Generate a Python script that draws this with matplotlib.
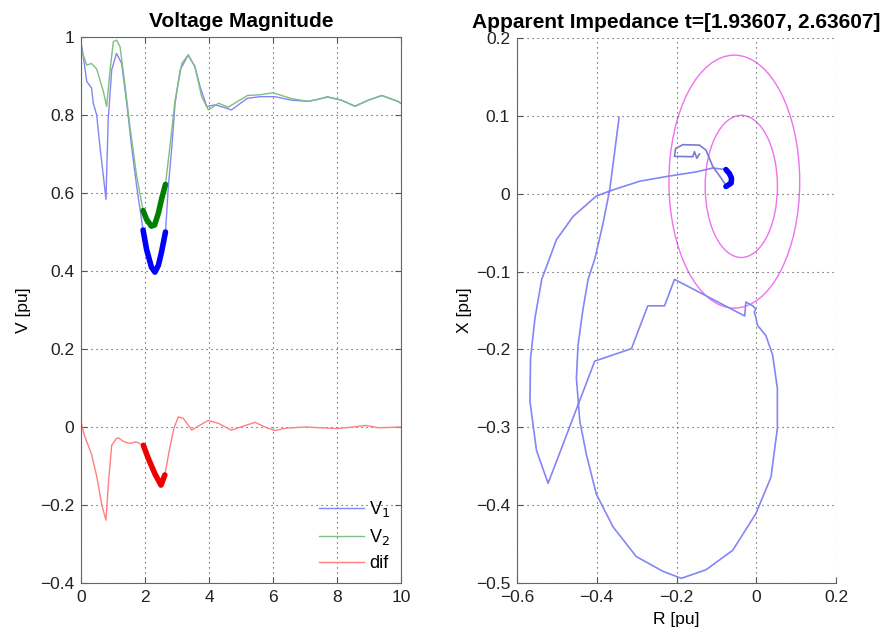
import matplotlib
matplotlib.use("Agg")
import matplotlib.pyplot as plt
from matplotlib.patches import Ellipse
import numpy as np

plt.rcParams['font.family'] = ['Liberation Sans', 'DejaVu Sans']

# ---------------- Left panel data ----------------
t_v1 = [0.0, 0.02, 0.18, 0.33, 0.385, 0.49, 0.59, 0.70, 0.78, 0.85, 0.96, 1.11, 1.27, 1.43,
        1.58, 1.74, 1.94, 2.05, 2.2, 2.31, 2.42, 2.52, 2.64, 2.73, 2.84, 2.94, 3.1, 3.35,
        3.56, 3.72, 3.93, 4.19, 4.45, 4.7, 4.95, 5.2, 5.6, 6.06, 6.58, 7.1, 7.4, 7.7, 8.14,
        8.56, 8.98, 9.4, 9.9, 10.0]
v1 = [0.96, 0.979, 0.886, 0.869, 0.83, 0.80, 0.72, 0.643, 0.583, 0.788, 0.916, 0.958, 0.932, 0.83,
      0.72, 0.617, 0.505, 0.455, 0.41, 0.397, 0.415, 0.45, 0.50, 0.617, 0.72, 0.83, 0.916, 0.954,
      0.924, 0.873, 0.822, 0.826, 0.82, 0.813, 0.828, 0.843, 0.847, 0.847, 0.838, 0.835, 0.84, 0.846, 0.838,
      0.822, 0.838, 0.85, 0.835, 0.83]

t_v2 = [0.0, 0.02, 0.18, 0.33, 0.49, 0.70, 0.80, 0.91, 1.01, 1.11, 1.22, 1.38, 1.53, 1.74,
        1.94, 2.05, 2.2, 2.3, 2.42, 2.52, 2.64, 2.78, 2.94, 3.15, 3.35, 3.56, 3.77, 3.98,
        4.3, 4.6, 4.9, 5.2, 5.6, 6.0, 6.58, 7.1, 7.4, 7.7, 8.14, 8.56, 8.98, 9.4, 9.9, 10.0]
v2 = [0.95, 0.966, 0.928, 0.932, 0.918, 0.86, 0.822, 0.916, 0.988, 0.992, 0.975, 0.873, 0.77, 0.643,
      0.555, 0.532, 0.515, 0.518, 0.549, 0.585, 0.622, 0.72, 0.838, 0.932, 0.954, 0.924, 0.847, 0.813,
      0.83, 0.82, 0.835, 0.85, 0.852, 0.857, 0.842, 0.835, 0.84, 0.847, 0.838, 0.823, 0.838, 0.85, 0.835, 0.83]

t_dif = [0.0, 0.1, 0.33, 0.5, 0.65, 0.78, 0.87, 0.96, 1.1, 1.17, 1.35, 1.53, 1.72, 1.95,
         2.1, 2.31, 2.5, 2.62, 2.75, 2.9, 3.04, 3.2, 3.46, 3.7, 3.98, 4.3, 4.7, 5.1, 5.44,
         5.8, 6.06, 6.4, 7.0, 7.5, 8.0, 8.5, 8.9, 9.3, 10.0]
dif = [0.013, -0.02, -0.07, -0.13, -0.2, -0.239, -0.13, -0.047, -0.03, -0.028, -0.038, -0.042, -0.038, -0.047,
       -0.08, -0.12, -0.149, -0.123, -0.064, -0.004, 0.026, 0.022, -0.008, 0.004, 0.017, 0.009, -0.008, 0.003, 0.012,
       -0.002, -0.009, -0.003, 0.0, -0.002, -0.004, 0.0, 0.004, -0.002, 0.0]

t_window = [1.93607, 2.63607]

left_xticks = [0, 2, 4, 6, 8, 10]
left_yticks = [-0.4, -0.2, 0, 0.2, 0.4, 0.6, 0.8, 1]
left_yticklabels = ['\u22120.4', '\u22120.2', '0', '0.2', '0.4', '0.6', '0.8', '1']

# ---------------- Right panel data ----------------
r_path1 = [-0.344, -0.356, -0.3675, -0.385, -0.405, -0.4217, -0.435, -0.447, -0.451, -0.4425,
           -0.426, -0.401, -0.359, -0.301, -0.234, -0.188, -0.126, -0.059, -0.001, 0.037,
           0.053, 0.053, 0.041, 0.024, 0.003, -0.001, -0.005, -0.001, -0.009, -0.026, -0.029,
           -0.205, -0.23, -0.272, -0.313, -0.405, -0.522, -0.551, -0.5675, -0.566, -0.555,
           -0.538, -0.501, -0.459, -0.401, -0.359, -0.2925, -0.226, -0.151, -0.109, -0.076]
x_path1 = [0.098, 0.05, 0.005, -0.04, -0.084, -0.11, -0.15, -0.195, -0.237, -0.292,
           -0.335, -0.386, -0.428, -0.466, -0.485, -0.494, -0.483, -0.458, -0.411, -0.364,
           -0.301, -0.25, -0.207, -0.182, -0.169, -0.159, -0.152, -0.148, -0.144, -0.139, -0.157,
           -0.110, -0.144, -0.144, -0.199, -0.215, -0.372, -0.33, -0.267, -0.211, -0.16,
           -0.11, -0.059, -0.029, -0.003, 0.005, 0.016, 0.022, 0.028, 0.033, 0.031]

r_thick = [-0.076, -0.0675, -0.062, -0.063, -0.076]
x_thick = [0.031, 0.026, 0.020, 0.0136, 0.0093]

r_path2 = [-0.076, -0.08, -0.095, -0.109, -0.126, -0.1425, -0.184, -0.2025, -0.205,
           -0.159, -0.155, -0.149, -0.1425]
x_path2 = [0.0093, 0.014, 0.025, 0.035, 0.056, 0.0624, 0.063, 0.058, 0.048,
           0.0475, 0.054, 0.0455, 0.051]

zone_center_r = [-0.055, -0.0375]
zone_center_x = [0.0155, 0.0094]
zone_half_r = [0.164, 0.0906]
zone_half_x = [0.1625, 0.0913]

right_xticks = [-0.6, -0.4, -0.2, 0, 0.2]
right_xticklabels = ['\u22120.6', '\u22120.4', '\u22120.2', '0', '0.2']
right_yticks = [-0.5, -0.4, -0.3, -0.2, -0.1, 0, 0.1, 0.2]
right_yticklabels = ['\u22120.5', '\u22120.4', '\u22120.3', '\u22120.2', '\u22120.1', '0', '0.1', '0.2']

# ---------------- Styles ----------------
c_v1 = '#8585f5'
c_v2 = '#7fbf7f'
c_dif = '#ff8080'
c_zone = '#f070f0'
grid_kw = dict(color='#444444', linestyle=(0, (1, 3.5)), linewidth=0.8)
TICK_FS = 12.5
LAB_FS = 12.5
TITLE_FS = 15

fig = plt.figure(figsize=(8.83, 6.35), dpi=100)

# Left axes
ax1 = fig.add_axes([81 / 883, (635 - 583) / 635, 320 / 883, 546 / 635])
tv1 = np.array(t_v1); av1 = np.array(v1)
tv2 = np.array(t_v2); av2 = np.array(v2)
td = np.array(t_dif); ad = np.array(dif)
ax1.plot(tv1, av1, color=c_v1, lw=1.0, label='V$_1$')
ax1.plot(tv2, av2, color=c_v2, lw=1.0, label='V$_2$')
ax1.plot(td, ad, color=c_dif, lw=1.0, label='dif')
m1 = (tv1 >= t_window[0] - 0.01) & (tv1 <= t_window[1] + 0.01)
m2 = (tv2 >= t_window[0] - 0.01) & (tv2 <= t_window[1] + 0.01)
md = (td >= t_window[0] - 0.01) & (td <= t_window[1] + 0.01)
ax1.plot(tv1[m1], av1[m1], color='#0000ff', lw=4, solid_capstyle='round')
ax1.plot(tv2[m2], av2[m2], color='#008000', lw=4, solid_capstyle='round')
ax1.plot(td[md], ad[md], color='#ee0000', lw=4, solid_capstyle='round')
ax1.set_xlim(0, 10)
ax1.set_ylim(-0.4, 1.0)
ax1.set_xticks(left_xticks)
ax1.set_yticks(left_yticks)
ax1.set_yticklabels(left_yticklabels)
ax1.grid(True, **grid_kw)
ax1.tick_params(direction='in', top=True, right=True, labelsize=TICK_FS, length=4,
                colors='#555555', labelcolor='#222222', pad=5)
for s in ax1.spines.values():
    s.set_color('#666666')
ax1.set_title('Voltage Magnitude', fontsize=TITLE_FS, fontweight='bold', pad=7)
ax1.set_ylabel('V [pu]', fontsize=LAB_FS, labelpad=6)
leg = ax1.legend(loc='lower right', frameon=False, fontsize=13, handlelength=2.5,
                 borderaxespad=0.2, labelspacing=0.45, handletextpad=0.3)

# Right axes
ax2 = fig.add_axes([517 / 883, (635 - 583) / 635, 319 / 883, 545 / 635])
for rc, xc, hr, hx in zip(zone_center_r, zone_center_x, zone_half_r, zone_half_x):
    ax2.add_patch(Ellipse((rc, xc), 2 * hr, 2 * hx, fill=False, edgecolor=c_zone, lw=1.0))
ax2.plot(r_path1, x_path1, color=c_v1, lw=1.2)
ax2.plot(r_path2, x_path2, color='#7a7ad0', lw=1.2)
ax2.plot(r_thick, x_thick, color='#0000ff', lw=4, solid_capstyle='round')
ax2.set_xlim(-0.6, 0.2)
ax2.set_ylim(-0.5, 0.2)
ax2.set_xticks(right_xticks)
ax2.set_xticklabels(right_xticklabels)
ax2.set_yticks(right_yticks)
ax2.set_yticklabels(right_yticklabels)
ax2.grid(True, **grid_kw)
ax2.spines['top'].set_visible(False)
ax2.spines['right'].set_visible(False)
for s in ('left', 'bottom'):
    ax2.spines[s].set_color('#666666')
ax2.tick_params(direction='in', labelsize=TICK_FS, length=4, colors='#555555',
                labelcolor='#222222', pad=5)
ax2.set_title('Apparent Impedance t=[1.93607, 2.63607]', fontsize=TITLE_FS,
              fontweight='bold', pad=7)
ax2.set_xlabel('R [pu]', fontsize=LAB_FS, labelpad=5)
ax2.set_ylabel('X [pu]', fontsize=LAB_FS, labelpad=3)

fig.savefig('out.png', dpi=100)
